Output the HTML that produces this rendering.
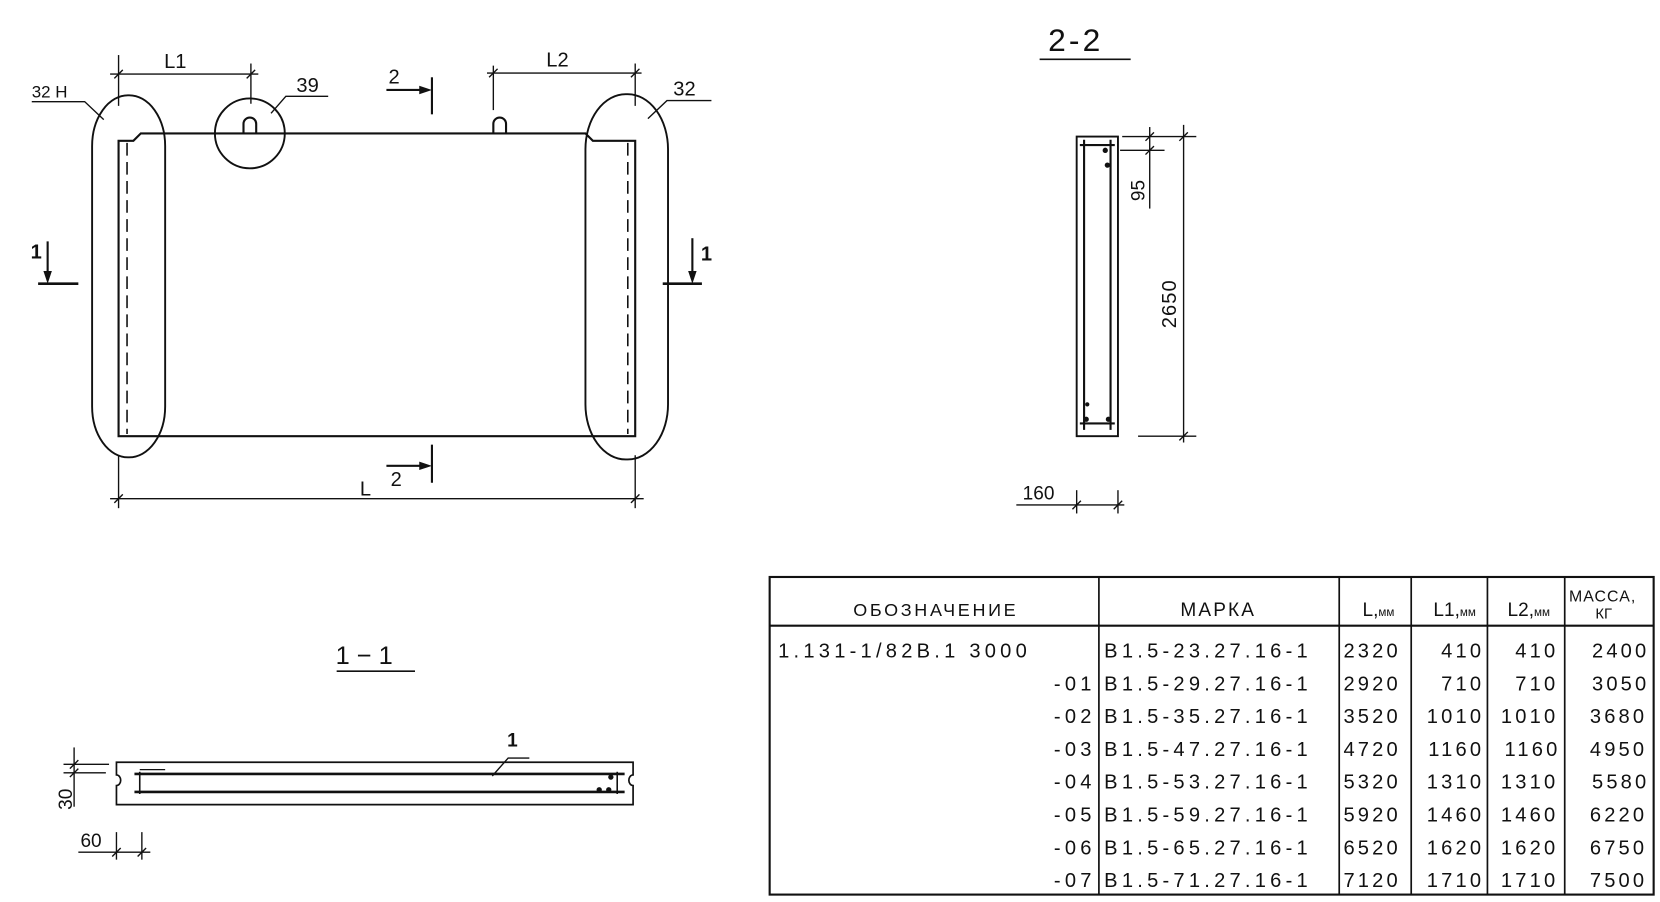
<!DOCTYPE html>
<html><head><meta charset="utf-8"><style>
html,body{margin:0;padding:0;background:#fff;}
svg{display:block}
text{font-family:"Liberation Sans","DejaVu Sans",sans-serif;fill:#111;}
</style></head><body>
<svg width="1660" height="902" viewBox="0 0 1568 852" preserveAspectRatio="none" xmlns="http://www.w3.org/2000/svg">
<g stroke="#111" stroke-width="2" fill="none">
<!-- main slab -->
<path d="M112,412 L112,133 L126,133 L133,126 L553,126 L560,133 L600,133 L600,412 Z"/>
<line x1="120" y1="135" x2="120" y2="410" stroke-dasharray="12,6" stroke-width="1.5"/>
<line x1="593" y1="135" x2="593" y2="410" stroke-dasharray="12,6" stroke-width="1.5"/>
<path d="M230,126 L230,117 A6,6 0 0 1 242,117 L242,126"/>
<path d="M466,126 L466,117 A6,6 0 0 1 478,117 L478,126"/>
<rect x="87" y="90" width="69" height="342" rx="34" ry="48" stroke-width="1.8"/>
<rect x="553" y="89" width="78" height="345" rx="38" ry="52" stroke-width="1.8"/>
<circle cx="236" cy="126" r="33" stroke-width="1.8"/>
<g stroke-width="1.3">
<line x1="112" y1="52" x2="112" y2="100"/><line x1="237" y1="60" x2="237" y2="98"/>
<line x1="104" y1="70" x2="244" y2="70"/>
<line x1="108" y1="74" x2="116" y2="66"/><line x1="233" y1="74" x2="241" y2="66"/>
<line x1="466" y1="62" x2="466" y2="104"/><line x1="600" y1="60" x2="600" y2="100"/>
<line x1="460" y1="69" x2="606" y2="69"/>
<line x1="462" y1="73" x2="470" y2="65"/><line x1="596" y1="73" x2="604" y2="65"/>
<line x1="112" y1="430" x2="112" y2="480"/><line x1="600" y1="430" x2="600" y2="480"/>
<line x1="104" y1="471" x2="608" y2="471"/>
<line x1="108" y1="475" x2="116" y2="467"/><line x1="596" y1="475" x2="604" y2="467"/>
<polyline points="30,96 80,96 98,113"/>
<polyline points="310,91 270,91 256,107"/>
<polyline points="672,95 630,95 612,112"/>
</g>
<line x1="408" y1="73" x2="408" y2="108" stroke-width="2"/>
<line x1="365" y1="85" x2="400" y2="85"/>
<line x1="408" y1="420" x2="408" y2="456" stroke-width="2"/>
<line x1="365" y1="440" x2="400" y2="440"/>
<line x1="36" y1="268" x2="74" y2="268" stroke-width="2.5"/>
<line x1="45" y1="228" x2="45" y2="260"/>
<line x1="626" y1="268" x2="663" y2="268" stroke-width="2.5"/>
<line x1="654" y1="225" x2="654" y2="260"/>
</g>
<g fill="#111">
<polygon points="408,85 396,81 396,89"/>
<polygon points="408,440 396,436 396,444"/>
<polygon points="45,268 41,256 49,256"/>
<polygon points="654,268 650,256 658,256"/>
</g>
<g font-size="19">
<text x="155" y="64">L1</text>
<text x="516" y="63">L2</text>
<text x="340" y="468">L</text>
<text x="30" y="92" font-size="16">32 Н</text>
<text x="280" y="87">39</text>
<text x="636" y="90">32</text>
<text x="367" y="79">2</text>
<text x="369" y="459">2</text>
<text x="29" y="244" font-weight="bold">1</text>
<text x="662" y="246" font-weight="bold">1</text>
</g>

<!-- 2-2 -->
<text x="990" y="48" font-size="30" letter-spacing="3">2-2</text>
<line x1="982" y1="56" x2="1068" y2="56" stroke="#111" stroke-width="1.5"/>
<g stroke="#111" fill="none">
<rect x="1017" y="129" width="39" height="283" stroke-width="1.8"/>
<line x1="1024" y1="132" x2="1024" y2="406" stroke-width="2"/>
<line x1="1049" y1="132" x2="1049" y2="406" stroke-width="2"/>
<line x1="1020" y1="137" x2="1053" y2="137" stroke-width="2"/>
<line x1="1020" y1="400" x2="1053" y2="400" stroke-width="2"/>
<g stroke-width="1.3">
<line x1="1060" y1="129" x2="1130" y2="129"/>
<line x1="1058" y1="142" x2="1100" y2="142"/>
<line x1="1086" y1="120" x2="1086" y2="197"/>
<line x1="1118" y1="118" x2="1118" y2="418"/>
<line x1="1075" y1="412" x2="1130" y2="412"/>
<line x1="1082" y1="133" x2="1090" y2="125"/><line x1="1082" y1="146" x2="1090" y2="138"/>
<line x1="1114" y1="133" x2="1122" y2="125"/><line x1="1114" y1="416" x2="1122" y2="408"/>
<line x1="960" y1="477" x2="1062" y2="477"/>
<line x1="1017" y1="463" x2="1017" y2="485"/><line x1="1056" y1="463" x2="1056" y2="485"/>
<line x1="1013" y1="481" x2="1021" y2="473"/><line x1="1052" y1="481" x2="1060" y2="473"/>
</g>
</g>
<g fill="#111"><circle cx="1044" cy="142" r="2.5"/><circle cx="1046" cy="156" r="2.5"/><circle cx="1027" cy="382" r="2"/><circle cx="1026" cy="396" r="2.5"/><circle cx="1047" cy="396" r="2.5"/></g>
<text transform="translate(1081,190) rotate(-90)" font-size="18">95</text>
<text transform="translate(1111,310) rotate(-90)" font-size="19" letter-spacing="1">2650</text>
<text x="966" y="472" font-size="18">160</text>

<!-- 1-1 -->
<text x="317" y="627" font-size="24">1 − 1</text>
<line x1="318" y1="634" x2="392" y2="634" stroke="#111" stroke-width="1.5"/>
<g stroke="#111" fill="none">
<path d="M110,720 L598,720 L598,732 A4,5 0 0 0 598,742 L598,760 L110,760 L110,742 A4,5 0 0 0 110,732 Z" stroke-width="1.6"/>
<line x1="127" y1="731" x2="590" y2="731" stroke-width="2.5"/>
<line x1="127" y1="748" x2="590" y2="748" stroke-width="2.5"/>
<line x1="132" y1="729" x2="132" y2="750" stroke-width="1.5"/>
<line x1="583" y1="729" x2="583" y2="750" stroke-width="1.5"/>
<line x1="132" y1="727" x2="156" y2="727" stroke-width="1.2"/>
<polyline points="500,716 480,716 465,733" stroke-width="1.3"/>
<g stroke-width="1.3">
<line x1="60" y1="722" x2="103" y2="722"/><line x1="60" y1="730" x2="100" y2="730"/>
<line x1="70" y1="706" x2="70" y2="762"/>
<line x1="66" y1="726" x2="74" y2="718"/><line x1="66" y1="734" x2="74" y2="726"/>
<line x1="74" y1="805" x2="142" y2="805"/>
<line x1="110" y1="786" x2="110" y2="812"/><line x1="134" y1="786" x2="134" y2="812"/>
<line x1="106" y1="809" x2="114" y2="801"/><line x1="130" y1="809" x2="138" y2="801"/>
</g>
</g>
<g fill="#111"><circle cx="575" cy="746" r="2.5"/><circle cx="566" cy="746" r="2.5"/><circle cx="577" cy="734" r="2.5"/></g>
<text x="479" y="705" font-size="18" font-weight="bold">1</text>
<text transform="translate(68,765) rotate(-90)" font-size="18">30</text>
<text x="76" y="800" font-size="18">60</text>

<!-- table -->
<g stroke="#111" fill="none">
<rect x="727" y="545" width="835" height="300" stroke-width="2"/>
<line x1="727" y1="591" x2="1562" y2="591" stroke-width="2"/>
<g stroke-width="1.6">
<line x1="1038" y1="545" x2="1038" y2="845"/>
<line x1="1265" y1="545" x2="1265" y2="845"/>
<line x1="1333" y1="545" x2="1333" y2="845"/>
<line x1="1405" y1="545" x2="1405" y2="845"/>
<line x1="1478" y1="545" x2="1478" y2="845"/>
</g>
</g>
<g font-size="18">
<text x="806" y="582" font-size="17" letter-spacing="2.5">ОБОЗНАЧЕНИЕ</text>
<text x="1115" y="582" letter-spacing="2">МАРКА</text>
<text x="1287" y="582">L,<tspan font-size="11">мм</tspan></text>
<text x="1354" y="582">L1,<tspan font-size="11">мм</tspan></text>
<text x="1424" y="582">L2,<tspan font-size="11">мм</tspan></text>
<text x="1482" y="568" font-size="15" letter-spacing="1">МАССА,</text>
<text x="1507" y="584" font-size="14">КГ</text>
</g>
<g font-size="19" letter-spacing="4">
<text x="735" y="621">1.131-1/82В.1 3000</text>
<g text-anchor="end">
<text x="1035" y="652">-01</text><text x="1035" y="683">-02</text><text x="1035" y="714">-03</text><text x="1035" y="745">-04</text><text x="1035" y="776">-05</text><text x="1035" y="807">-06</text><text x="1035" y="838">-07</text>
</g>
<text x="1043" y="621">В1.5-23.27.16-1</text>
<text x="1043" y="652">В1.5-29.27.16-1</text>
<text x="1043" y="683">В1.5-35.27.16-1</text>
<text x="1043" y="714">В1.5-47.27.16-1</text>
<text x="1043" y="745">В1.5-53.27.16-1</text>
<text x="1043" y="776">В1.5-59.27.16-1</text>
<text x="1043" y="807">В1.5-65.27.16-1</text>
<text x="1043" y="838">В1.5-71.27.16-1</text>
</g>
<g font-size="19" letter-spacing="3">
<text x="1269" y="621">2320</text><text x="1269" y="652">2920</text><text x="1269" y="683">3520</text><text x="1269" y="714">4720</text><text x="1269" y="745">5320</text><text x="1269" y="776">5920</text><text x="1269" y="807">6520</text><text x="1269" y="838">7120</text>
<g text-anchor="end">
<text x="1402" y="621">410</text><text x="1402" y="652">710</text><text x="1402" y="683">1010</text><text x="1402" y="714">1160</text><text x="1402" y="745">1310</text><text x="1402" y="776">1460</text><text x="1402" y="807">1620</text><text x="1402" y="838">1710</text>
<text x="1472" y="621">410</text><text x="1472" y="652">710</text><text x="1472" y="683">1010</text><text x="1474" y="714">1160</text><text x="1472" y="745">1310</text><text x="1472" y="776">1460</text><text x="1472" y="807">1620</text><text x="1472" y="838">1710</text>
<text x="1558" y="621">2400</text><text x="1558" y="652">3050</text><text x="1556" y="683">3680</text><text x="1556" y="714">4950</text><text x="1558" y="745">5580</text><text x="1556" y="776">6220</text><text x="1556" y="807">6750</text><text x="1556" y="838">7500</text>
</g>
</g>
</svg>
</body></html>
